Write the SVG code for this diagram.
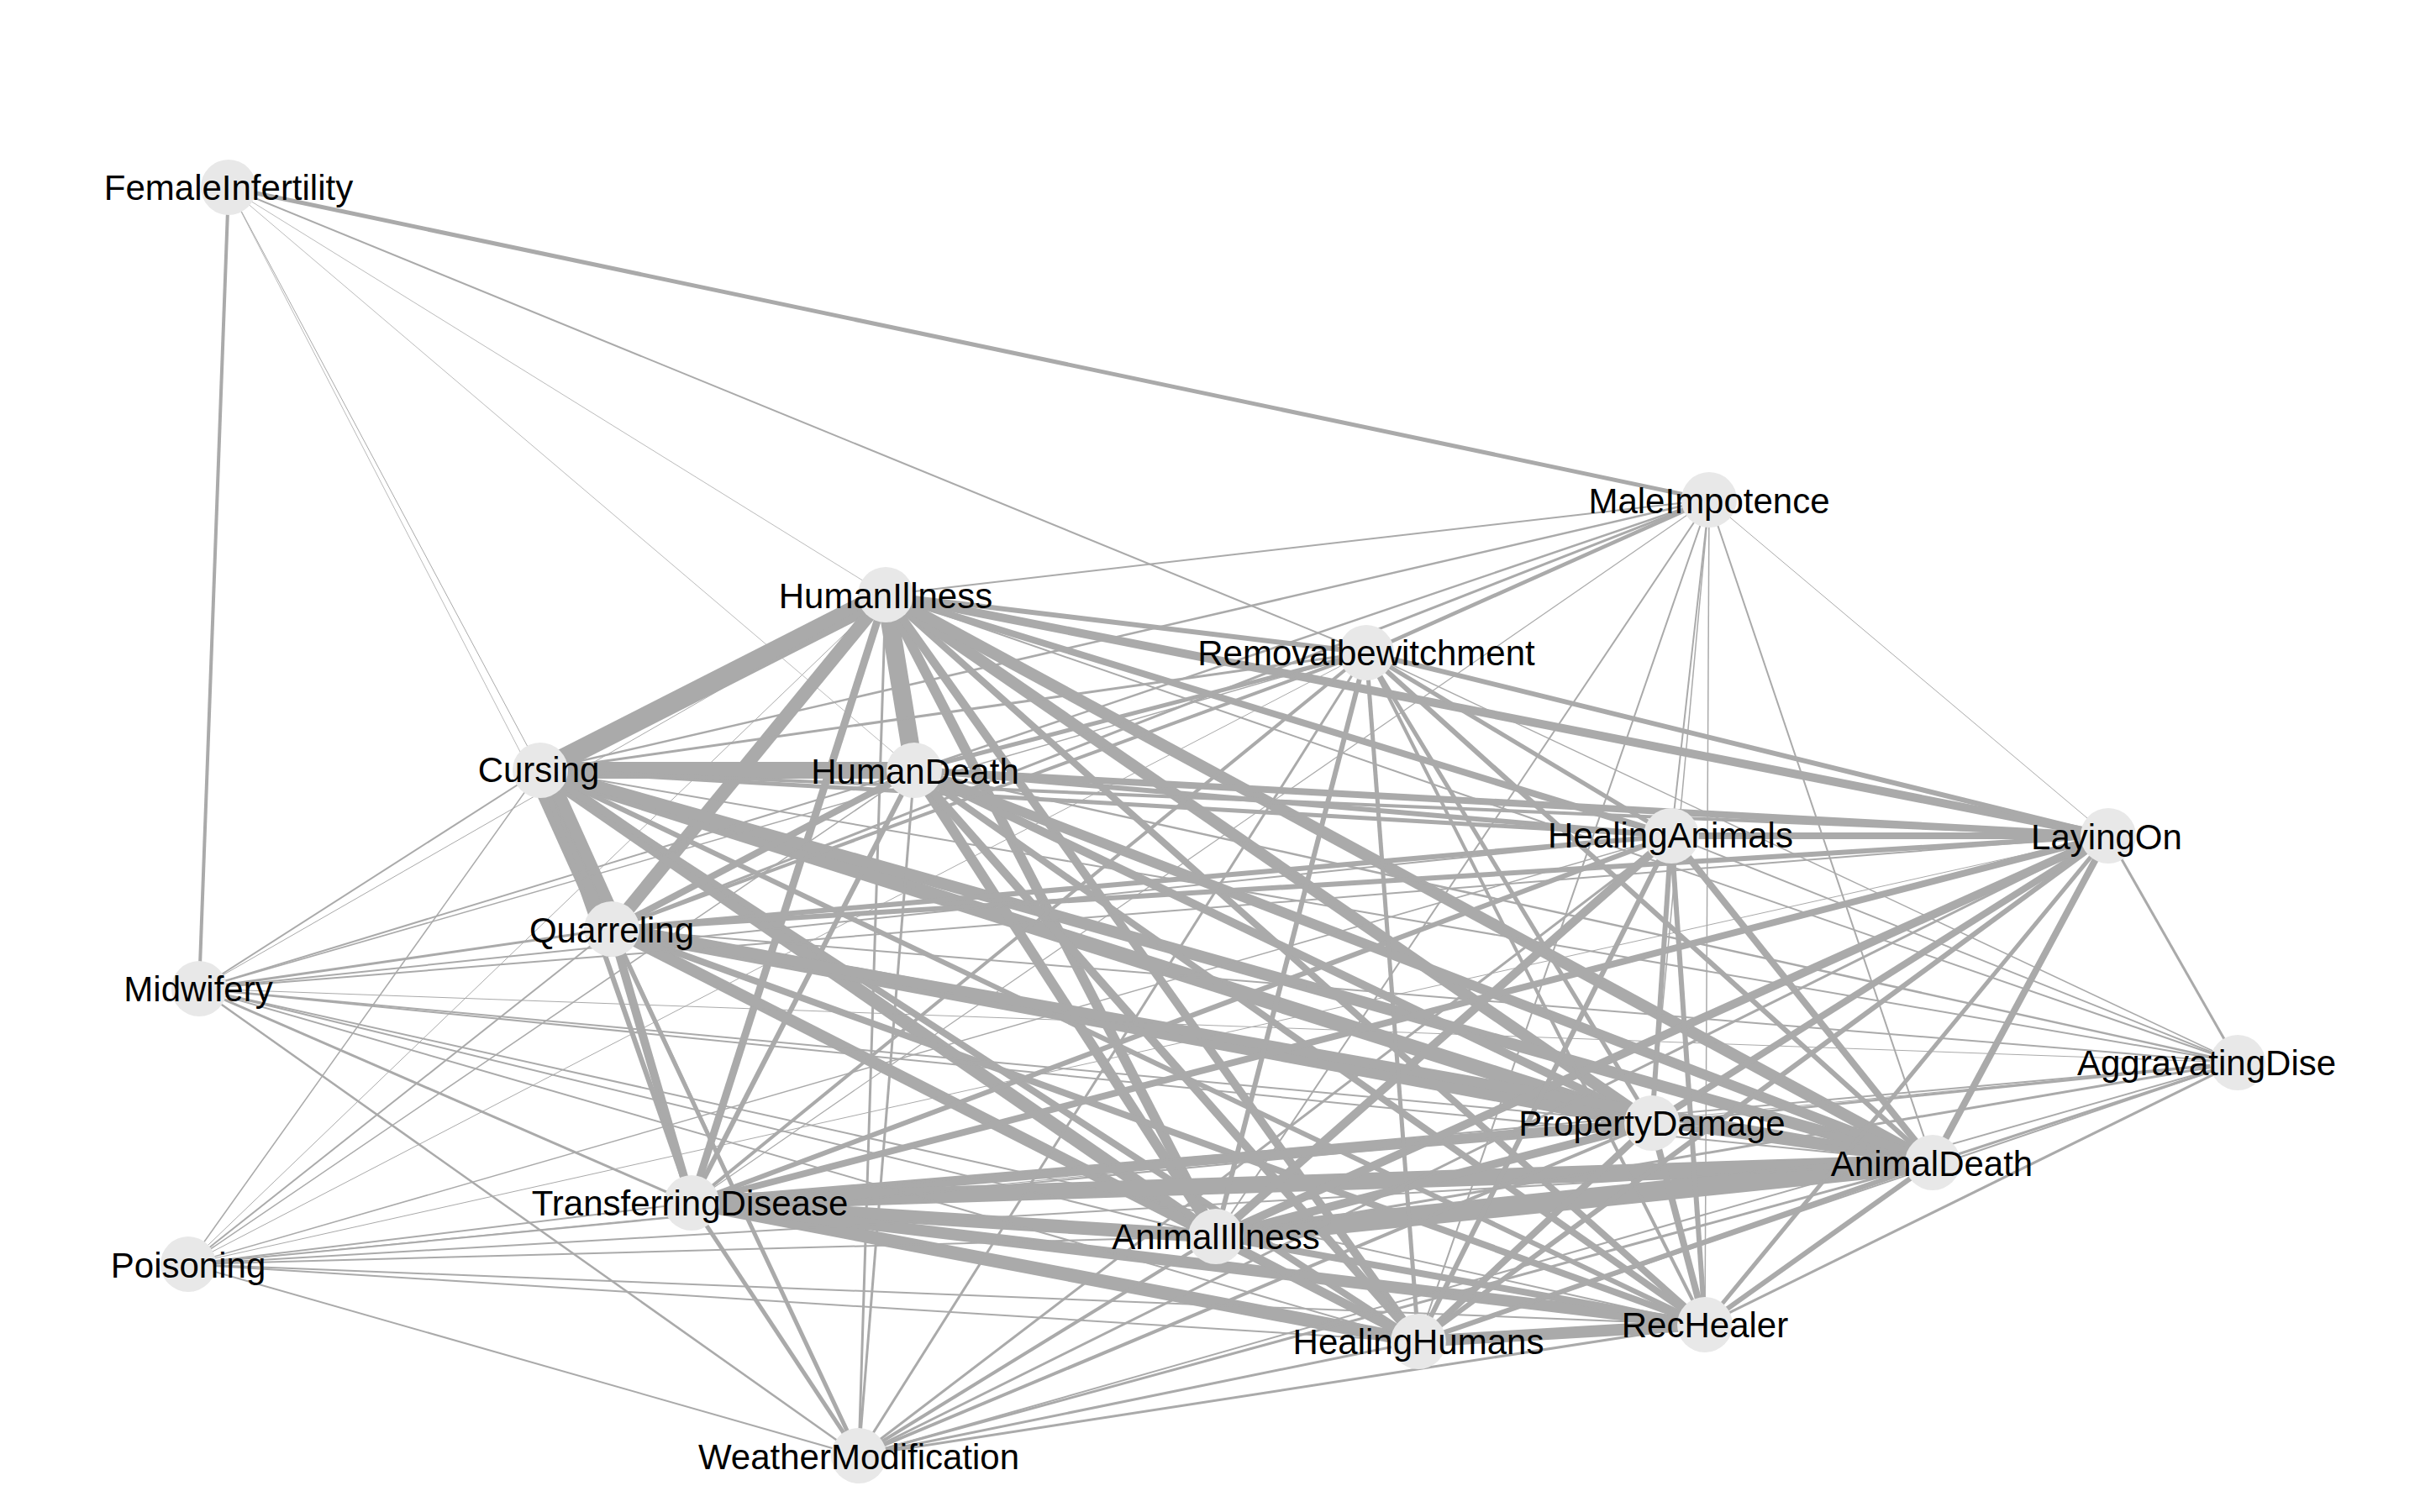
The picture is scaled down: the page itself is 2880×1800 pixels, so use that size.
<svg xmlns="http://www.w3.org/2000/svg" width="2880" height="1800" viewBox="0 0 2880 1800">
<style>
.e line{stroke:#aaaaaa;stroke-linecap:butt}
.n circle{fill:#e8e8e8}
.n text{font-family:"Liberation Sans",Arial,sans-serif;font-size:42px;fill:#000;text-anchor:middle}
</style>
<rect width="2880" height="1800" fill="#ffffff"/>
<g id="edges" class="e">
<!-- FemaleInfertility -->
<line x1="272" y1="223" x2="237" y2="1177" stroke-width="4"/>
<line x1="272" y1="223" x2="2034" y2="595" stroke-width="5"/>
<line x1="272" y1="223" x2="1626" y2="777" stroke-width="2"/>
<line x1="272" y1="223" x2="1054" y2="708" stroke-width="0.8"/>
<line x1="272" y1="223" x2="1088" y2="917" stroke-width="0.8"/>
<line x1="272" y1="223" x2="643" y2="917" stroke-width="1"/>
<line x1="272" y1="223" x2="728" y2="1106" stroke-width="0.8"/>
<!-- MaleImpotence -->
<line x1="2034" y1="595" x2="1054" y2="708" stroke-width="2"/>
<line x1="2034" y1="595" x2="643" y2="917" stroke-width="2.5"/>
<line x1="2034" y1="595" x2="1088" y2="917" stroke-width="2.5"/>
<line x1="2034" y1="595" x2="728" y2="1106" stroke-width="3"/>
<line x1="2034" y1="595" x2="1626" y2="777" stroke-width="4.5"/>
<line x1="2034" y1="595" x2="823" y2="1432" stroke-width="1.2"/>
<line x1="2034" y1="595" x2="1447" y2="1472" stroke-width="2"/>
<line x1="2034" y1="595" x2="1688" y2="1597" stroke-width="2"/>
<line x1="2034" y1="595" x2="1989" y2="995" stroke-width="2"/>
<line x1="2034" y1="595" x2="1966" y2="1337" stroke-width="1.5"/>
<line x1="2034" y1="595" x2="2029" y2="1577" stroke-width="1.5"/>
<line x1="2034" y1="595" x2="2300" y2="1384" stroke-width="2"/>
<line x1="2034" y1="595" x2="2509" y2="995" stroke-width="1"/>
<!-- HumanIllness -->
<line x1="1054" y1="708" x2="643" y2="917" stroke-width="24"/>
<line x1="1054" y1="708" x2="728" y2="1106" stroke-width="16"/>
<line x1="1054" y1="708" x2="1088" y2="917" stroke-width="22"/>
<line x1="1054" y1="708" x2="823" y2="1432" stroke-width="9"/>
<line x1="1054" y1="708" x2="1022" y2="1733" stroke-width="3"/>
<line x1="1054" y1="708" x2="1447" y2="1472" stroke-width="12"/>
<line x1="1054" y1="708" x2="1688" y2="1597" stroke-width="10"/>
<line x1="1054" y1="708" x2="2029" y2="1577" stroke-width="8"/>
<line x1="1054" y1="708" x2="1966" y2="1337" stroke-width="14"/>
<line x1="1054" y1="708" x2="2300" y2="1384" stroke-width="14"/>
<line x1="1054" y1="708" x2="1989" y2="995" stroke-width="8"/>
<line x1="1054" y1="708" x2="2509" y2="995" stroke-width="10"/>
<line x1="1054" y1="708" x2="1626" y2="777" stroke-width="6"/>
<line x1="1054" y1="708" x2="2663" y2="1265" stroke-width="2"/>
<line x1="1054" y1="708" x2="237" y2="1177" stroke-width="1"/>
<line x1="1054" y1="708" x2="224" y2="1505" stroke-width="1"/>
<!-- Cursing -->
<line x1="643" y1="917" x2="728" y2="1106" stroke-width="32"/>
<line x1="643" y1="917" x2="1088" y2="917" stroke-width="20"/>
<line x1="643" y1="917" x2="823" y2="1432" stroke-width="6"/>
<line x1="643" y1="917" x2="1447" y2="1472" stroke-width="16"/>
<line x1="643" y1="917" x2="1688" y2="1597" stroke-width="8"/>
<line x1="643" y1="917" x2="1966" y2="1337" stroke-width="18"/>
<line x1="643" y1="917" x2="2300" y2="1384" stroke-width="14"/>
<line x1="643" y1="917" x2="2029" y2="1577" stroke-width="6"/>
<line x1="643" y1="917" x2="1989" y2="995" stroke-width="5"/>
<line x1="643" y1="917" x2="2509" y2="995" stroke-width="4"/>
<line x1="643" y1="917" x2="1626" y2="777" stroke-width="3"/>
<line x1="643" y1="917" x2="237" y2="1177" stroke-width="2"/>
<line x1="643" y1="917" x2="224" y2="1505" stroke-width="1.5"/>
<line x1="643" y1="917" x2="1022" y2="1733" stroke-width="1.5"/>
<line x1="643" y1="917" x2="2663" y2="1265" stroke-width="2"/>
<!-- HumanDeath -->
<line x1="1088" y1="917" x2="728" y2="1106" stroke-width="8"/>
<line x1="1088" y1="917" x2="823" y2="1432" stroke-width="6"/>
<line x1="1088" y1="917" x2="1447" y2="1472" stroke-width="12"/>
<line x1="1088" y1="917" x2="1688" y2="1597" stroke-width="10"/>
<line x1="1088" y1="917" x2="2029" y2="1577" stroke-width="8"/>
<line x1="1088" y1="917" x2="1966" y2="1337" stroke-width="10"/>
<line x1="1088" y1="917" x2="2300" y2="1384" stroke-width="12"/>
<line x1="1088" y1="917" x2="1989" y2="995" stroke-width="6"/>
<line x1="1088" y1="917" x2="2509" y2="995" stroke-width="8"/>
<line x1="1088" y1="917" x2="1626" y2="777" stroke-width="5"/>
<line x1="1088" y1="917" x2="1022" y2="1733" stroke-width="3"/>
<line x1="1088" y1="917" x2="237" y2="1177" stroke-width="2"/>
<line x1="1088" y1="917" x2="224" y2="1505" stroke-width="1.5"/>
<line x1="1088" y1="917" x2="2663" y2="1265" stroke-width="2.5"/>
<!-- Quarreling -->
<line x1="728" y1="1106" x2="823" y2="1432" stroke-width="10"/>
<line x1="728" y1="1106" x2="1022" y2="1733" stroke-width="5"/>
<line x1="728" y1="1106" x2="1447" y2="1472" stroke-width="14"/>
<line x1="728" y1="1106" x2="1688" y2="1597" stroke-width="10"/>
<line x1="728" y1="1106" x2="2029" y2="1577" stroke-width="8"/>
<line x1="728" y1="1106" x2="1966" y2="1337" stroke-width="18"/>
<line x1="728" y1="1106" x2="2300" y2="1384" stroke-width="12"/>
<line x1="728" y1="1106" x2="1989" y2="995" stroke-width="6"/>
<line x1="728" y1="1106" x2="2509" y2="995" stroke-width="6"/>
<line x1="728" y1="1106" x2="1626" y2="777" stroke-width="4"/>
<line x1="728" y1="1106" x2="237" y2="1177" stroke-width="3"/>
<line x1="728" y1="1106" x2="224" y2="1505" stroke-width="2"/>
<line x1="728" y1="1106" x2="2663" y2="1265" stroke-width="2"/>
<!-- TransferringDisease -->
<line x1="823" y1="1432" x2="1966" y2="1337" stroke-width="12"/>
<line x1="823" y1="1432" x2="2300" y2="1384" stroke-width="20"/>
<line x1="823" y1="1432" x2="1447" y2="1472" stroke-width="16"/>
<line x1="823" y1="1432" x2="1688" y2="1597" stroke-width="16"/>
<line x1="823" y1="1432" x2="2029" y2="1577" stroke-width="14"/>
<line x1="823" y1="1432" x2="1989" y2="995" stroke-width="6"/>
<line x1="823" y1="1432" x2="2509" y2="995" stroke-width="8"/>
<line x1="823" y1="1432" x2="1626" y2="777" stroke-width="4"/>
<line x1="823" y1="1432" x2="1022" y2="1733" stroke-width="5"/>
<line x1="823" y1="1432" x2="237" y2="1177" stroke-width="3"/>
<line x1="823" y1="1432" x2="224" y2="1505" stroke-width="2"/>
<line x1="823" y1="1432" x2="2663" y2="1265" stroke-width="2"/>
<!-- AnimalIllness -->
<line x1="1447" y1="1472" x2="2300" y2="1384" stroke-width="24"/>
<line x1="1447" y1="1472" x2="1966" y2="1337" stroke-width="10"/>
<line x1="1447" y1="1472" x2="1688" y2="1597" stroke-width="10"/>
<line x1="1447" y1="1472" x2="2029" y2="1577" stroke-width="8"/>
<line x1="1447" y1="1472" x2="1989" y2="995" stroke-width="10"/>
<line x1="1447" y1="1472" x2="2509" y2="995" stroke-width="10"/>
<line x1="1447" y1="1472" x2="1626" y2="777" stroke-width="6"/>
<line x1="1447" y1="1472" x2="1022" y2="1733" stroke-width="4"/>
<line x1="1447" y1="1472" x2="237" y2="1177" stroke-width="2"/>
<line x1="1447" y1="1472" x2="224" y2="1505" stroke-width="2"/>
<line x1="1447" y1="1472" x2="2663" y2="1265" stroke-width="3"/>
<!-- PropertyDamage -->
<line x1="1966" y1="1337" x2="2300" y2="1384" stroke-width="8"/>
<line x1="1966" y1="1337" x2="1688" y2="1597" stroke-width="8"/>
<line x1="1966" y1="1337" x2="2029" y2="1577" stroke-width="8"/>
<line x1="1966" y1="1337" x2="1989" y2="995" stroke-width="6"/>
<line x1="1966" y1="1337" x2="2509" y2="995" stroke-width="8"/>
<line x1="1966" y1="1337" x2="1626" y2="777" stroke-width="5"/>
<line x1="1966" y1="1337" x2="1022" y2="1733" stroke-width="4"/>
<line x1="1966" y1="1337" x2="237" y2="1177" stroke-width="2"/>
<line x1="1966" y1="1337" x2="224" y2="1505" stroke-width="2"/>
<line x1="1966" y1="1337" x2="2663" y2="1265" stroke-width="3"/>
<!-- AnimalDeath -->
<line x1="2300" y1="1384" x2="1688" y2="1597" stroke-width="6"/>
<line x1="2300" y1="1384" x2="2029" y2="1577" stroke-width="6"/>
<line x1="2300" y1="1384" x2="1989" y2="995" stroke-width="8"/>
<line x1="2300" y1="1384" x2="2509" y2="995" stroke-width="8"/>
<line x1="2300" y1="1384" x2="1626" y2="777" stroke-width="6"/>
<line x1="2300" y1="1384" x2="1022" y2="1733" stroke-width="3"/>
<line x1="2300" y1="1384" x2="237" y2="1177" stroke-width="2"/>
<line x1="2300" y1="1384" x2="224" y2="1505" stroke-width="2"/>
<line x1="2300" y1="1384" x2="2663" y2="1265" stroke-width="3"/>
<!-- HealingHumans -->
<line x1="1688" y1="1597" x2="2029" y2="1577" stroke-width="14"/>
<line x1="1688" y1="1597" x2="1989" y2="995" stroke-width="6"/>
<line x1="1688" y1="1597" x2="2509" y2="995" stroke-width="6"/>
<line x1="1688" y1="1597" x2="1626" y2="777" stroke-width="5"/>
<line x1="1688" y1="1597" x2="1022" y2="1733" stroke-width="3"/>
<line x1="1688" y1="1597" x2="237" y2="1177" stroke-width="2"/>
<line x1="1688" y1="1597" x2="224" y2="1505" stroke-width="2"/>
<line x1="1688" y1="1597" x2="2663" y2="1265" stroke-width="2"/>
<!-- RecHealer -->
<line x1="2029" y1="1577" x2="1989" y2="995" stroke-width="6"/>
<line x1="2029" y1="1577" x2="2509" y2="995" stroke-width="5"/>
<line x1="2029" y1="1577" x2="1626" y2="777" stroke-width="4"/>
<line x1="2029" y1="1577" x2="1022" y2="1733" stroke-width="3"/>
<line x1="2029" y1="1577" x2="237" y2="1177" stroke-width="2"/>
<line x1="2029" y1="1577" x2="224" y2="1505" stroke-width="2"/>
<line x1="2029" y1="1577" x2="2663" y2="1265" stroke-width="3"/>
<!-- HealingAnimals -->
<line x1="1989" y1="995" x2="2509" y2="995" stroke-width="8"/>
<line x1="1989" y1="995" x2="1626" y2="777" stroke-width="5"/>
<line x1="1989" y1="995" x2="1022" y2="1733" stroke-width="3"/>
<line x1="1989" y1="995" x2="237" y2="1177" stroke-width="2"/>
<line x1="1989" y1="995" x2="224" y2="1505" stroke-width="1.5"/>
<line x1="1989" y1="995" x2="2663" y2="1265" stroke-width="2"/>
<!-- LayingOn -->
<line x1="2509" y1="995" x2="1626" y2="777" stroke-width="6"/>
<line x1="2509" y1="995" x2="1022" y2="1733" stroke-width="3"/>
<line x1="2509" y1="995" x2="237" y2="1177" stroke-width="2"/>
<line x1="2509" y1="995" x2="2663" y2="1265" stroke-width="3"/>
<line x1="2509" y1="995" x2="224" y2="1505" stroke-width="1"/>
<!-- Removalbewitchment -->
<line x1="1626" y1="777" x2="1022" y2="1733" stroke-width="3"/>
<line x1="1626" y1="777" x2="237" y2="1177" stroke-width="1.5"/>
<line x1="1626" y1="777" x2="2663" y2="1265" stroke-width="1.5"/>
<line x1="1626" y1="777" x2="224" y2="1505" stroke-width="1"/>
<!-- Midwifery / Poisoning / WeatherModification -->
<line x1="237" y1="1177" x2="1022" y2="1733" stroke-width="2.5"/>
<line x1="237" y1="1177" x2="2663" y2="1265" stroke-width="1"/>
<line x1="224" y1="1505" x2="1022" y2="1733" stroke-width="2"/>
<line x1="224" y1="1505" x2="2663" y2="1265" stroke-width="1"/>
<line x1="1022" y1="1733" x2="2663" y2="1265" stroke-width="2"/>
</g>
<g id="node-FemaleInfertility" class="n"><circle cx="272" cy="223" r="33"/><text x="272" y="238">FemaleInfertility</text></g>
<g id="node-MaleImpotence" class="n"><circle cx="2034" cy="595" r="33"/><text x="2034" y="611">MaleImpotence</text></g>
<g id="node-HumanIllness" class="n"><circle cx="1054" cy="708" r="33"/><text x="1054" y="724">HumanIllness</text></g>
<g id="node-Removalbewitchment" class="n"><circle cx="1626" cy="777" r="33"/><text x="1626" y="792">Removalbewitchment</text></g>
<g id="node-Cursing" class="n"><circle cx="643" cy="917" r="33"/><text x="641" y="931">Cursing</text></g>
<g id="node-HumanDeath" class="n"><circle cx="1088" cy="917" r="33"/><text x="1089" y="933">HumanDeath</text></g>
<g id="node-HealingAnimals" class="n"><circle cx="1989" cy="995" r="33"/><text x="1988" y="1009">HealingAnimals</text></g>
<g id="node-LayingOn" class="n"><circle cx="2509" cy="995" r="33"/><text x="2507" y="1011">LayingOn</text></g>
<g id="node-Quarreling" class="n"><circle cx="728" cy="1106" r="33"/><text x="728" y="1122">Quarreling</text></g>
<g id="node-Midwifery" class="n"><circle cx="237" cy="1177" r="33"/><text x="236" y="1192">Midwifery</text></g>
<g id="node-AggravatingDise" class="n"><circle cx="2663" cy="1265" r="33"/><text x="2626" y="1280">AggravatingDise</text></g>
<g id="node-PropertyDamage" class="n"><circle cx="1966" cy="1337" r="33"/><text x="1966" y="1352">PropertyDamage</text></g>
<g id="node-AnimalDeath" class="n"><circle cx="2300" cy="1384" r="33"/><text x="2299" y="1400">AnimalDeath</text></g>
<g id="node-TransferringDisease" class="n"><circle cx="823" cy="1432" r="33"/><text x="821" y="1447">TransferringDisease</text></g>
<g id="node-AnimalIllness" class="n"><circle cx="1447" cy="1472" r="33"/><text x="1447" y="1487">AnimalIllness</text></g>
<g id="node-Poisoning" class="n"><circle cx="224" cy="1505" r="33"/><text x="224" y="1521">Poisoning</text></g>
<g id="node-HealingHumans" class="n"><circle cx="1688" cy="1597" r="33"/><text x="1688" y="1612">HealingHumans</text></g>
<g id="node-RecHealer" class="n"><circle cx="2029" cy="1577" r="33"/><text x="2029" y="1592">RecHealer</text></g>
<g id="node-WeatherModification" class="n"><circle cx="1022" cy="1733" r="33"/><text x="1022" y="1749">WeatherModification</text></g>
</svg>
